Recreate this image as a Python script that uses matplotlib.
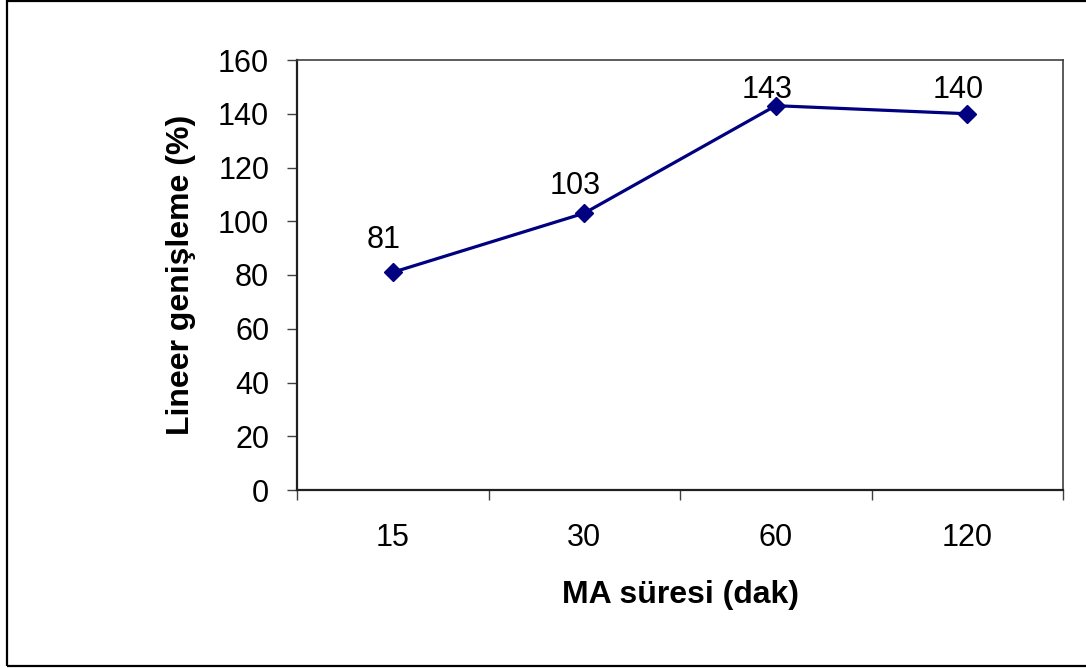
import matplotlib
matplotlib.use("Agg")
import matplotlib.pyplot as plt
from matplotlib.patches import Rectangle
from matplotlib.ticker import FixedLocator, NullFormatter

categories = ["15", "30", "60", "120"]
values = [81, 103, 143, 140]
y_ticks = [0, 20, 40, 60, 80, 100, 120, 140, 160]

# vertical gap (px) between each point and the baseline of its value label
label_gaps = [24, 19, 8, 16]

plt.rcParams["font.family"] = ["Liberation Sans", "DejaVu Sans"]

W, H = 1086, 668
DPI = 100
fig = plt.figure(figsize=(W / DPI, H / DPI), dpi=DPI)
fig.patch.set_facecolor("white")
px = 72 / DPI  # points per pixel

# outer chart frame (open on the right)
fig.patches.append(Rectangle((7 / W, 1 - 666 / H), 1.2, 665 / H,
                             transform=fig.transFigure, fill=False,
                             edgecolor="black", linewidth=1.6, zorder=0))

ax = fig.add_axes([297 / W, 1 - 490 / H, (1063 - 297) / W, (490 - 60) / H])
x = list(range(len(categories)))
ax.plot(x, values, color="#000080", linewidth=2.3, marker="D",
        markersize=9.5, markerfacecolor="#000080", markeredgecolor="#000080",
        clip_on=False, zorder=3)

for xi, v, gap in zip(x, values, label_gaps):
    ax.annotate(str(v), (xi, v), xytext=(-9 * px, gap * px),
                textcoords="offset points", ha="center", va="baseline",
                fontsize=22, color="black")

ax.set_xlim(-0.5, len(categories) - 0.5)
ax.set_ylim(0, 160)

# category boundaries carry the tick marks, labels sit at the centers
ax.xaxis.set_major_locator(FixedLocator([i - 0.5 for i in range(len(categories) + 1)]))
ax.xaxis.set_major_formatter(NullFormatter())
ax.xaxis.set_minor_locator(FixedLocator(x))
ax.set_xticklabels(categories, minor=True)
ax.tick_params(axis="x", which="major", direction="out", length=7, width=1, color="#404040")
ax.tick_params(axis="x", which="minor", length=0, pad=24, labelsize=22)

ax.set_yticks(y_ticks)
ax.tick_params(axis="y", direction="out", length=7, width=1, color="#404040",
               labelsize=22, pad=13)

for side in ["left", "bottom"]:
    ax.spines[side].set_color("#202020")
    ax.spines[side].set_linewidth(1.6)
for side in ["top", "right"]:
    ax.spines[side].set_color("#404040")
    ax.spines[side].set_linewidth(1.2)

ax.set_xlabel("MA süresi (dak)", fontsize=23, fontweight="bold", labelpad=19)
ax.set_ylabel("Lineer genişleme (%)", fontsize=23, fontweight="bold", labelpad=16)

fig.savefig("out.png", dpi=DPI, facecolor="white")
